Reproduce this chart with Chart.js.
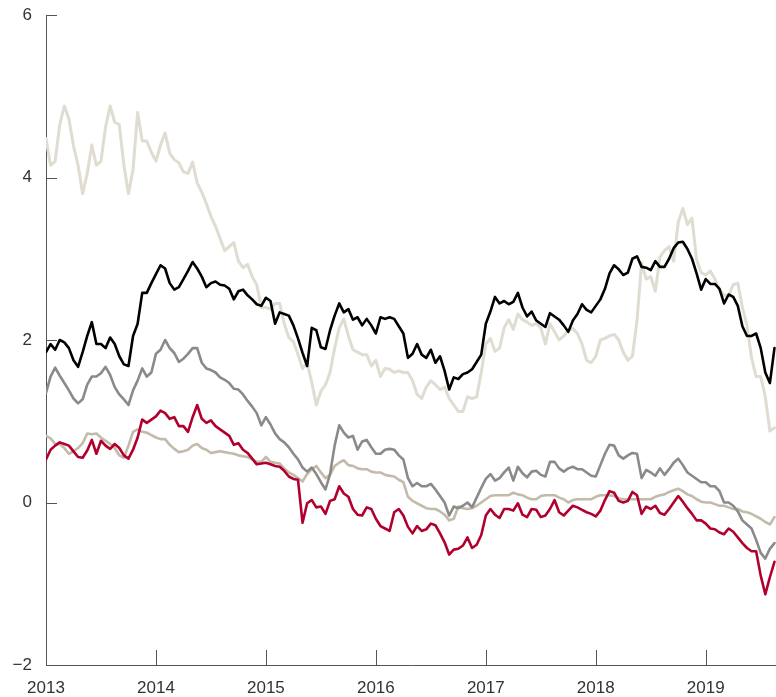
<!DOCTYPE html>
<html>
<head>
<meta charset="utf-8">
<script src="https://cdn.jsdelivr.net/npm/chart.js@4.4.1/dist/chart.umd.min.js"></script>
<style>
  html, body { margin: 0; padding: 0; background: #ffffff; }
  #wrap { width: 776px; height: 697px; }
</style>
</head>
<body>
<div id="wrap"><canvas id="c" width="776" height="697"></canvas></div>
<script>
// Observation dates: semi-monthly, from start of 2013
const startYear = 2013;
const pointsPerYear = 24;
const nPoints = 160;
const dates = Array.from({length: nPoints}, (_, i) => startYear + i / pointsPerYear);

const yearTicks = [2013, 2014, 2015, 2016, 2017, 2018, 2019];
const valueTicks = [-2, 0, 2, 4, 6];

const seriesBlack = [
  1.85,1.95,1.88,2.0,1.97,1.9,1.75,1.67,1.85,2.05,2.22,1.95,1.95,1.9,2.03,1.95,1.8,1.7,1.68,2.05,2.2,2.58,2.58,2.7,2.81,2.92,2.88,2.7,2.62,2.65,2.75,2.85,2.96,2.88,2.78,2.65,2.7,2.72,2.68,
  2.67,2.63,2.5,2.6,2.62,2.55,2.5,2.44,2.42,2.52,2.48,2.2,2.34,2.32,2.3,2.18,2.02,1.84,1.68,2.15,2.12,1.91,1.89,2.12,2.3,2.45,2.34,2.38,2.25,2.28,2.18,2.26,2.18,2.08,2.28,2.26,2.28,2.26,2.17,2.08,
  1.78,1.83,1.95,1.82,1.78,1.88,1.72,1.8,1.62,1.39,1.54,1.52,1.58,1.6,1.64,1.73,1.82,2.2,2.35,2.53,2.45,2.48,2.44,2.47,2.58,2.4,2.29,2.35,2.24,2.2,2.16,2.33,2.29,2.25,2.18,2.1,2.24,2.32,2.44,2.37,
  2.34,2.42,2.5,2.63,2.82,2.92,2.87,2.8,2.83,3.0,3.03,2.9,2.89,2.86,2.97,2.9,2.9,3.0,3.13,3.2,3.21,3.12,3.0,2.82,2.62,2.75,2.69,2.69,2.63,2.45,2.56,2.53,2.42,2.17,2.05,2.05,2.08,1.9,1.6,1.47,1.9
];
const seriesLight = [
  4.48,4.15,4.2,4.65,4.88,4.72,4.39,4.15,3.8,4.05,4.4,4.15,4.2,4.62,4.88,4.68,4.65,4.15,3.8,4.1,4.8,4.45,4.45,4.31,4.2,4.4,4.55,4.3,4.22,4.18,4.07,4.05,4.19,3.93,3.82,3.68,3.52,3.4,3.25,
  3.1,3.15,3.2,2.97,2.89,2.93,2.78,2.68,2.4,2.4,2.38,2.45,2.45,2.2,2.03,1.98,1.82,1.65,1.72,1.48,1.2,1.37,1.45,1.6,1.9,2.15,2.26,2.05,1.88,1.85,1.82,1.82,1.68,1.75,1.55,1.65,1.64,1.6,1.62,1.6,
  1.6,1.5,1.33,1.28,1.42,1.5,1.45,1.39,1.42,1.28,1.2,1.12,1.12,1.3,1.28,1.3,1.6,1.95,2.02,1.86,1.9,2.15,2.25,2.13,2.32,2.25,2.22,2.18,2.2,2.15,1.95,2.2,2.1,2.0,2.05,2.12,2.14,2.08,1.95,1.75,
  1.72,1.8,2.0,2.02,2.05,2.07,2.0,1.85,1.75,1.8,2.24,2.95,2.75,2.78,2.6,3.02,3.1,3.15,2.97,3.45,3.62,3.42,3.5,2.99,2.83,2.8,2.85,2.75,2.62,2.55,2.55,2.68,2.7,2.4,2.18,1.78,1.55,1.55,1.3,0.88,0.92
];
const seriesGray = [
  1.35,1.55,1.66,1.56,1.47,1.38,1.28,1.22,1.27,1.45,1.55,1.55,1.59,1.67,1.57,1.42,1.33,1.27,1.2,1.38,1.5,1.65,1.55,1.6,1.83,1.88,2.0,1.9,1.84,1.73,1.77,1.83,1.9,1.9,1.72,1.65,1.63,1.6,1.54,
  1.51,1.47,1.4,1.39,1.33,1.25,1.18,1.1,0.95,1.05,0.96,0.85,0.78,0.74,0.68,0.6,0.53,0.43,0.38,0.43,0.35,0.25,0.16,0.35,0.7,0.95,0.86,0.8,0.82,0.65,0.75,0.77,0.68,0.6,0.6,0.65,0.66,0.65,0.58,0.53,
  0.3,0.2,0.24,0.2,0.2,0.23,0.16,0.08,0.0,-0.16,-0.05,-0.07,-0.04,0.0,-0.06,0.06,0.18,0.29,0.35,0.27,0.3,0.37,0.43,0.27,0.44,0.36,0.31,0.38,0.39,0.34,0.32,0.5,0.5,0.42,0.38,0.42,0.44,0.41,0.41,0.37,
  0.33,0.32,0.46,0.6,0.71,0.7,0.58,0.54,0.58,0.61,0.6,0.3,0.4,0.37,0.33,0.42,0.34,0.41,0.49,0.54,0.46,0.37,0.33,0.29,0.25,0.25,0.2,0.2,0.14,0.0,0.0,-0.04,-0.11,-0.22,-0.27,-0.32,-0.46,-0.62,-0.69,-0.57,-0.5
];
const seriesRed = [
  0.53,0.65,0.7,0.74,0.72,0.7,0.63,0.56,0.55,0.64,0.77,0.6,0.76,0.7,0.66,0.72,0.67,0.58,0.54,0.65,0.8,1.02,0.98,1.02,1.06,1.13,1.1,1.03,1.05,0.94,0.94,0.87,1.05,1.2,1.03,0.98,1.01,0.94,0.9,
  0.86,0.82,0.71,0.73,0.65,0.61,0.54,0.47,0.48,0.49,0.47,0.45,0.44,0.39,0.32,0.29,0.28,-0.25,-0.01,0.03,-0.06,-0.05,-0.14,0.02,0.04,0.2,0.11,0.07,-0.08,-0.15,-0.16,-0.06,-0.08,-0.2,-0.29,-0.32,-0.35,-0.12,-0.08,-0.16,
  -0.3,-0.38,-0.29,-0.35,-0.33,-0.26,-0.28,-0.38,-0.49,-0.64,-0.58,-0.57,-0.53,-0.43,-0.56,-0.52,-0.4,-0.16,-0.08,-0.15,-0.19,-0.08,-0.08,-0.1,-0.01,-0.15,-0.18,-0.08,-0.09,-0.18,-0.16,-0.08,0.03,-0.12,-0.16,-0.1,-0.04,-0.06,-0.09,-0.12,
  -0.14,-0.17,-0.1,0.03,0.14,0.12,0.02,0.0,0.02,0.13,0.09,-0.14,-0.05,-0.08,-0.04,-0.13,-0.15,-0.08,0.0,0.08,0.01,-0.07,-0.14,-0.22,-0.22,-0.26,-0.32,-0.33,-0.37,-0.39,-0.32,-0.36,-0.43,-0.5,-0.56,-0.6,-0.6,-0.9,-1.13,-0.92,-0.73
];
const seriesTan = [
  0.82,0.79,0.72,0.72,0.67,0.6,0.63,0.67,0.73,0.85,0.84,0.85,0.8,0.76,0.72,0.67,0.58,0.55,0.7,0.87,0.9,0.87,0.86,0.83,0.8,0.78,0.78,0.71,0.66,0.62,0.63,0.65,0.7,0.72,0.67,0.65,0.61,0.62,0.63,
  0.62,0.61,0.6,0.58,0.57,0.56,0.53,0.5,0.5,0.56,0.5,0.49,0.48,0.42,0.37,0.34,0.3,0.26,0.35,0.41,0.45,0.37,0.3,0.34,0.45,0.49,0.52,0.46,0.45,0.42,0.41,0.41,0.38,0.37,0.37,0.34,0.33,0.32,0.28,0.25,
  0.07,0.02,-0.01,-0.04,-0.07,-0.08,-0.08,-0.11,-0.15,-0.22,-0.2,-0.05,-0.07,-0.08,-0.07,-0.04,0.0,0.04,0.08,0.09,0.09,0.09,0.09,0.12,0.1,0.09,0.06,0.04,0.04,0.08,0.09,0.09,0.09,0.06,0.04,0.0,0.03,0.04,0.04,0.04,
  0.04,0.07,0.09,0.09,0.09,0.08,0.05,0.04,0.04,0.04,0.04,0.04,0.04,0.04,0.07,0.09,0.1,0.13,0.15,0.17,0.14,0.1,0.08,0.04,0.01,0.0,0.0,-0.02,-0.04,-0.04,-0.06,-0.08,-0.08,-0.11,-0.12,-0.14,-0.17,-0.2,-0.24,-0.27,-0.18
];

const axisColor = '#555555';
const textColor = '#333333';

function toXY(values) {
  return values.map((v, i) => ({x: dates[i], y: v}));
}

const innerTicks = {
  id: 'innerTicks',
  beforeDatasetsDraw(chart) {
    const {ctx, chartArea, scales} = chart;
    const x = scales.x, y = scales.y;
    ctx.save();
    ctx.strokeStyle = axisColor;
    ctx.lineWidth = 1;
    y.ticks.forEach((t, i) => {
      const py = Math.round(y.getPixelForTick(i)) + 0.5;
      if (Math.abs(py - chartArea.bottom) < 2) return;
      ctx.beginPath();
      ctx.moveTo(chartArea.left, py);
      ctx.lineTo(chartArea.left + 11, py);
      ctx.stroke();
    });
    x.ticks.forEach((t, i) => {
      const px = Math.round(x.getPixelForTick(i)) + 0.5;
      if (Math.abs(px - chartArea.left) < 2) return;
      ctx.beginPath();
      ctx.moveTo(px, chartArea.bottom);
      ctx.lineTo(px, chartArea.bottom - 15);
      ctx.stroke();
    });
    ctx.restore();
  }
};

const lineStyle = {pointRadius: 0, pointHoverRadius: 0, tension: 0, borderJoinStyle: 'round', borderCapStyle: 'round', fill: false};

new Chart(document.getElementById('c'), {
  type: 'line',
  data: {
    datasets: [
      Object.assign({label: 'black', data: toXY(seriesBlack), borderColor: '#000000', borderWidth: 2.6}, lineStyle),
      Object.assign({label: 'red', data: toXY(seriesRed), borderColor: '#b1002e', borderWidth: 2.6}, lineStyle),
      Object.assign({label: 'gray', data: toXY(seriesGray), borderColor: '#8a8a8a', borderWidth: 2.6}, lineStyle),
      Object.assign({label: 'tan', data: toXY(seriesTan), borderColor: '#c3bbaa', borderWidth: 2.6}, lineStyle),
      Object.assign({label: 'light', data: toXY(seriesLight), borderColor: '#e0dcd2', borderWidth: 3}, lineStyle)
    ]
  },
  options: {
    responsive: false,
    animation: false,
    events: [],
    layout: {padding: {top: 15, right: 0, bottom: 0, left: 0}},
    plugins: {legend: {display: false}, tooltip: {enabled: false}},
    scales: {
      x: {
        type: 'linear',
        min: startYear,
        max: dates[nPoints - 1] + 0.014,
        grid: {display: false, drawTicks: false},
        border: {display: true, color: axisColor, width: 1},
        afterBuildTicks: (scale) => { scale.ticks = yearTicks.map(v => ({value: v})); },
        afterFit: (scale) => { scale.height = 32; scale.paddingLeft = 0; scale.paddingRight = 0; },
        ticks: {
          autoSkip: false,
          maxRotation: 0,
          padding: 13,
          color: textColor,
          font: {family: "'Liberation Sans', Arial, sans-serif", size: 17},
          callback: (v) => String(v)
        }
      },
      y: {
        type: 'linear',
        min: valueTicks[0],
        max: valueTicks[valueTicks.length - 1],
        grid: {display: false, drawTicks: false},
        border: {display: true, color: axisColor, width: 1},
        afterBuildTicks: (scale) => { scale.ticks = valueTicks.map(v => ({value: v})); },
        afterFit: (scale) => { scale.width = 46; scale.paddingTop = 0; scale.paddingBottom = 0; },
        ticks: {
          padding: 14,
          color: textColor,
          font: {family: "'Liberation Sans', Arial, sans-serif", size: 17},
          callback: (v) => v < 0 ? '\u2212' + Math.abs(v) : String(v)
        }
      }
    }
  },
  plugins: [innerTicks]
});
</script>
</body>
</html>
